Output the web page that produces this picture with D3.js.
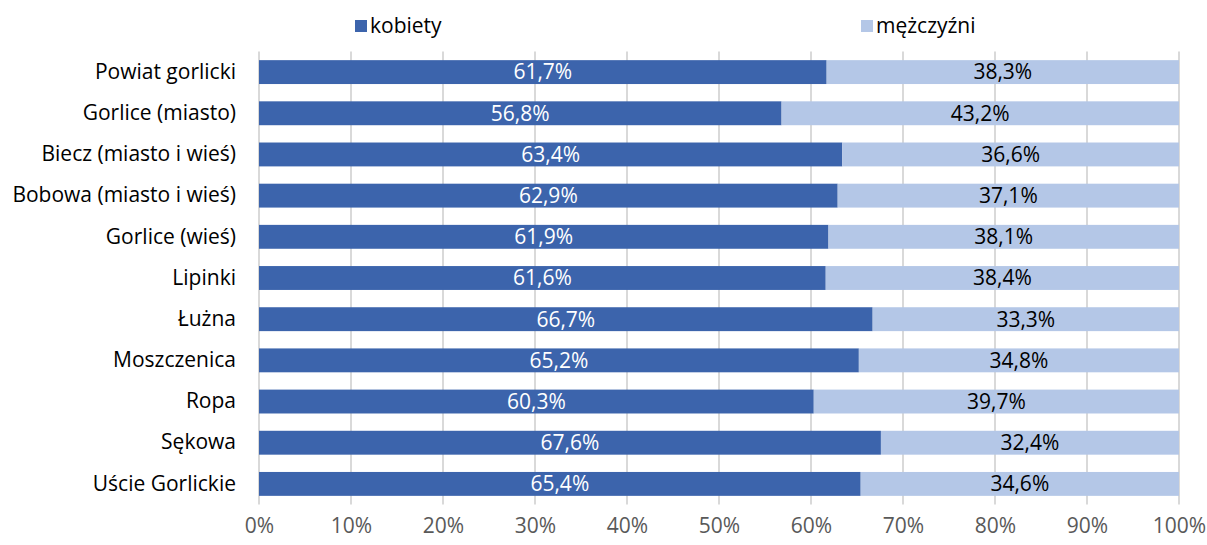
<!DOCTYPE html>
<html><head><meta charset="utf-8">
<script src="https://cdn.jsdelivr.net/npm/d3@7"></script>
<style>body{margin:0;background:#fff;} svg{display:block;font-family:"Open Sans",sans-serif;}</style>
</head><body>
<svg id="c" width="1207" height="545"></svg>
<script>
const categories = ["Powiat gorlicki","Gorlice (miasto)","Biecz (miasto i wieś)","Bobowa (miasto i wieś)","Gorlice (wieś)","Lipinki","Łużna","Moszczenica","Ropa","Sękowa","Uście Gorlickie"];
const kobiety = [61.7,56.8,63.4,62.9,61.9,61.6,66.7,65.2,60.3,67.6,65.4];
const mezczyzni = [38.3,43.2,36.6,37.1,38.1,38.4,33.3,34.8,39.7,32.4,34.6];
const seriesNames = ["kobiety","mężczyźni"];
const colors = ["#3C64AC","#B4C7E7"];
const ticks = [0,10,20,30,40,50,60,70,80,90,100];

const svg = d3.select("#c");
const x = d3.scaleLinear().domain([0,100]).range([259,1179]);
const y = d3.scaleBand().domain(categories).range([51.5,504.5]).paddingInner(0.42).paddingOuter(0.21);
const fs = 21;

// gridlines
svg.append("g").selectAll("line").data(ticks).join("line")
  .attr("x1",d=>x(d)).attr("x2",d=>x(d)).attr("y1",51.5).attr("y2",504.5)
  .attr("stroke","#D9D9D9").attr("stroke-width",2);

const fmt = v => v.toFixed(1).replace(".",",")+"%";
const rows = categories.map((c,i)=>({c,k:kobiety[i],m:mezczyzni[i]}));
const g = svg.append("g");
g.selectAll("rect.k").data(rows).join("rect").attr("class","k")
  .attr("x",x(0)).attr("y",d=>y(d.c)).attr("width",d=>x(d.k)-x(0)).attr("height",y.bandwidth()).attr("fill",colors[0]);
g.selectAll("rect.m").data(rows).join("rect").attr("class","m")
  .attr("x",d=>x(d.k)).attr("y",d=>y(d.c)).attr("width",d=>x(d.k+d.m)-x(d.k)).attr("height",y.bandwidth()).attr("fill",colors[1]);
g.selectAll("text.k").data(rows).join("text").attr("class","k")
  .attr("x",d=>x(d.k/2)).attr("y",d=>y(d.c)+y.bandwidth()/2).attr("dy","0.35em")
  .attr("text-anchor","middle").attr("fill","#fff").attr("font-size",fs).text(d=>fmt(d.k));
g.selectAll("text.m").data(rows).join("text").attr("class","m")
  .attr("x",d=>x(d.k+d.m/2)).attr("y",d=>y(d.c)+y.bandwidth()/2).attr("dy","0.35em")
  .attr("text-anchor","middle").attr("fill","#000").attr("font-size",fs).text(d=>fmt(d.m));

// y axis
const ya = svg.append("g").attr("transform","translate(259,0)").call(d3.axisLeft(y).tickSize(0).tickPadding(23));
ya.select(".domain").remove();
ya.selectAll("text").attr("font-size",fs).attr("fill","#000").attr("font-family","'Open Sans',sans-serif");

// x axis
const xa = svg.append("g").attr("transform","translate(0,504.5)").call(d3.axisBottom(x).tickValues(ticks).tickSize(0).tickPadding(14).tickFormat(d=>d+"%"));
xa.select(".domain").remove();
xa.selectAll("text").attr("font-size",fs).attr("fill","#595959").attr("font-family","'Open Sans',sans-serif");

// legend
const leg = [{n:seriesNames[0],c:colors[0],x:355},{n:seriesNames[1],c:colors[1],x:861}];
const lg = svg.append("g").selectAll("g").data(leg).join("g").attr("transform",d=>`translate(${d.x},0)`);
lg.append("rect").attr("x",0).attr("y",20).attr("width",12).attr("height",12).attr("fill",d=>d.c);
lg.append("text").attr("x",15).attr("y",26).attr("dy","0.35em").attr("font-size",fs).attr("fill","#000").text(d=>d.n);
</script>
</body></html>
